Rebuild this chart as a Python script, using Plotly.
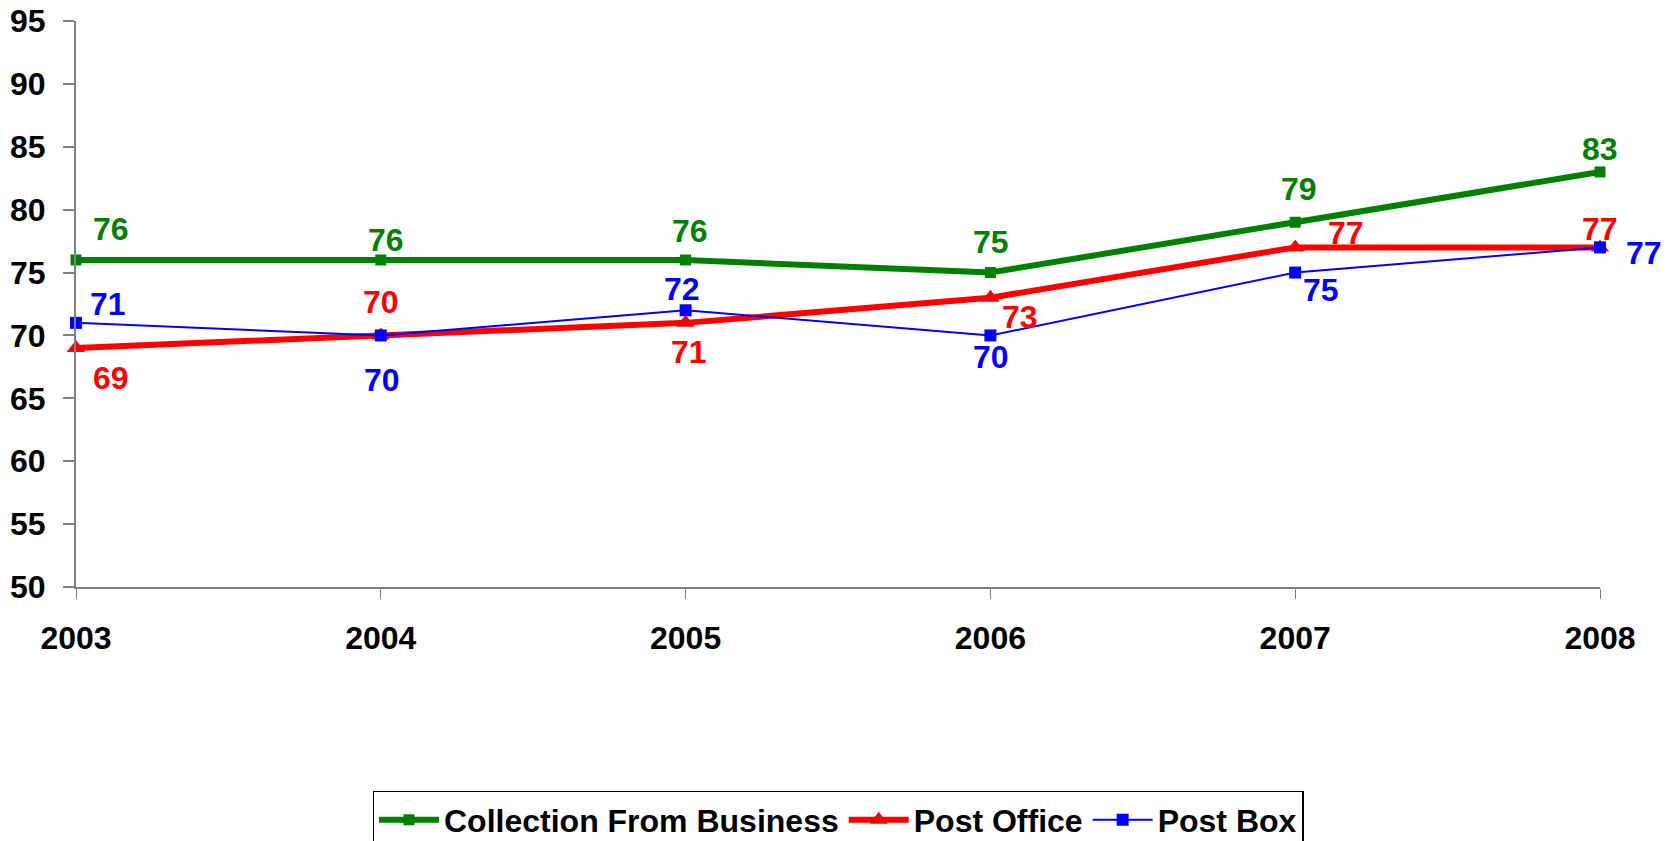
import plotly.graph_objects as go

years = [2003, 2004, 2005, 2006, 2007, 2008]
collection = [76, 76, 76, 75, 79, 83]
post_office = [69, 70, 71, 73, 77, 77]
post_box = [71, 70, 72, 70, 75, 77]
y_ticks = [50, 55, 60, 65, 70, 75, 80, 85, 90, 95]

FONT = "Liberation Sans, Arial, sans-serif"

series = [
    dict(name="Collection From Business", y=collection, color="#008000", width=6,
         symbol="square", msize=11,
         offs=[(35, -31), (5, -20), (4, -29), (1, -31), (4, -33), (0, -23)]),
    dict(name="Post Office", y=post_office, color="#FF0000", width=6,
         symbol="triangle-up", msize=16,
         offs=[(35, 30), (0, -33), (3, 29), (30, 19), (51, -14), (0, -18)]),
    dict(name="Post Box", y=post_box, color="#0000FF", width=2,
         symbol="square", msize=12,
         offs=[(32, -19), (1, 45), (-4, -21), (1, 22), (26, 17), (44, 6)]),
]

fig = go.Figure()
annotations = []
for s in series:
    fig.add_trace(go.Scatter(
        x=years, y=s["y"], name=s["name"], mode="lines+markers",
        line=dict(color=s["color"], width=s["width"]),
        marker=dict(symbol=s["symbol"], size=s["msize"], color=s["color"]),
        cliponaxis=False,
    ))
    for xv, yv, (dx, dy) in zip(years, s["y"], s["offs"]):
        annotations.append(dict(
            x=xv, y=yv, text=str(yv), showarrow=False,
            xshift=dx, yshift=-dy,
            font=dict(family=FONT, size=32, color=s["color"], weight="bold"),
        ))

fig.update_layout(
    width=1671, height=841,
    margin=dict(l=76, r=71, t=21, b=254, autoexpand=False),
    paper_bgcolor="white", plot_bgcolor="white",
    showlegend=True,
    legend=dict(
        orientation="h", x=0.5, xanchor="center",
        yref="container", y=0.0595, yanchor="top",
        bordercolor="black", borderwidth=1.5, bgcolor="white",
        font=dict(family=FONT, size=32, color="black", weight="bold"),
        itemwidth=60, tracegroupgap=0,
    ),
    annotations=annotations,
    xaxis=dict(
        range=[2003, 2008], tickmode="array", tickvals=years,
        ticktext=[str(y) for y in years],
        showgrid=False, zeroline=False, showline=True,
        linecolor="#808080", linewidth=2,
        ticks="outside", ticklen=10, tickcolor="#808080", tickwidth=1,
        ticklabelstandoff=12,
        tickfont=dict(family=FONT, size=32, color="black", weight="bold"),
    ),
    yaxis=dict(
        range=[50, 95], tickmode="array", tickvals=y_ticks,
        showgrid=False, zeroline=False, showline=True,
        linecolor="#808080", linewidth=2,
        ticks="outside", ticklen=11, tickcolor="#808080", tickwidth=2,
        ticklabelstandoff=11,
        tickfont=dict(family=FONT, size=32, color="black", weight="bold"),
    ),
)

fig.write_html("out.html")
